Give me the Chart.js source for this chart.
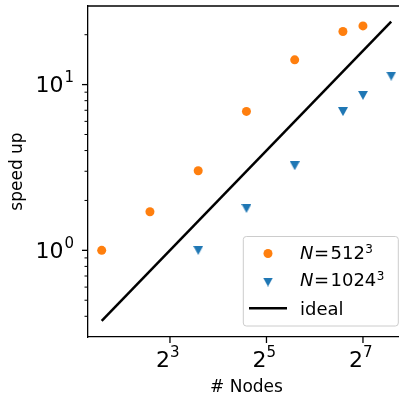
<!DOCTYPE html>
<html>
<head>
<meta charset="utf-8">
<script src="https://cdn.jsdelivr.net/npm/chart.js@4"></script>
<style>
  html, body { margin: 0; padding: 0; overflow: hidden; background: #fff; }
  #speedupChart { display: block; }
</style>
</head>
<body>
<canvas id="speedupChart" width="399" height="398"></canvas>
<script>
// Data

const nodes512 = [3, 6, 12, 24, 48, 96, 128];
const speedup512 = [1.0, 1.71, 3.02, 6.89, 14.1, 20.9, 22.6];

const nodes1024 = [12, 24, 48, 96, 128, 192];
const speedup1024 = [1.0, 1.79, 3.24, 6.87, 8.61, 11.25];

const idealNodes = [3, 192];
const idealSpeedup = [0.375, 24];

const seriesNames = ['N = 512³', 'N = 1024³', 'ideal'];

// Ticks
const xTicks = [8, 32, 128];
const xTickBase = '2';
const xTickExp = ['3', '5', '7'];
const yTicks = [1, 10];
const yTickBase = '10';
const yTickExp = ['0', '1'];
const yMinorTicks = [0.4, 0.5, 0.6, 0.7, 0.8, 0.9, 2, 3, 4, 5, 6, 7, 8, 9, 20];

const orange = '#ff7f0e';
const blue = '#1f77b4';
const FONT = '"DejaVu Sans"';

Chart.defaults.font.family = FONT;
Chart.defaults.color = '#000';

// down-pointing triangle marker, centred like matplotlib's 'v'
const triMarker = (() => {
    const c = document.createElement('canvas');
    c.width = 10; c.height = 9;
    const g = c.getContext('2d');
    g.fillStyle = blue;
    g.beginPath();
    g.moveTo(0, 0); g.lineTo(10, 0); g.lineTo(5, 9);
    g.closePath();
    g.fill();
    return c;
})();

const toPoints = (xs, ys) => xs.map((x, i) => ({ x: x, y: ys[i] }));

function drawPower(ctx, base, exp, x, baseline, align) {
    const size = 22, expSize = 15, raise = 10, gap = align === 'right' ? 1 : 0;
    ctx.font = size + 'px ' + FONT;
    const bw = ctx.measureText(base).width;
    ctx.font = expSize + 'px ' + FONT;
    const ew = ctx.measureText(exp).width;
    const x0 = align === 'right' ? x - bw - gap - ew : x - bw;
    ctx.textAlign = 'left';
    ctx.textBaseline = 'alphabetic';
    ctx.font = size + 'px ' + FONT;
    ctx.fillText(base, x0, baseline);
    ctx.font = expSize + 'px ' + FONT;
    ctx.fillText(exp, x0 + bw + gap, baseline - raise);
}

function line(ctx, x1, y1, x2, y2) {
    ctx.beginPath();
    ctx.moveTo(x1, y1);
    ctx.lineTo(x2, y2);
    ctx.stroke();
}

// top spine, tick marks, power-of labels and the x title
// (the axes box runs a few px past the right edge, so the title sits right of the visible centre)
const axisDecor = {
    id: 'axisDecor',
    afterDraw(chart) {
        const { ctx, chartArea: a, scales: { x, y } } = chart;
        ctx.save();
        ctx.strokeStyle = '#000';
        ctx.fillStyle = '#000';
        ctx.lineWidth = 1.3;
        line(ctx, a.left, a.top, a.right, a.top);

        xTicks.forEach((v, i) => {
            const px = x.getPixelForValue(v);
            line(ctx, px, a.bottom, px, a.bottom + 6);
            drawPower(ctx, xTickBase, xTickExp[i], px, 366.5, 'left');
        });

        yTicks.forEach((v, i) => {
            const py = y.getPixelForValue(v);
            line(ctx, a.left - 6, py, a.left, py);
            drawPower(ctx, yTickBase, yTickExp[i], 74, py + 7.8, 'right');
        });

        ctx.lineWidth = 1;
        yMinorTicks.forEach(v => {
            const py = y.getPixelForValue(v);
            line(ctx, a.left - 3.5, py, a.left, py);
        });

        ctx.font = '17px ' + FONT;
        ctx.textAlign = 'center';
        ctx.textBaseline = 'alphabetic';
        ctx.fillText('# Nodes', 246.5, 392);
        ctx.restore();
    }
};

// matplotlib style legend box
const supDigits = '⁰¹²³⁴⁵⁶⁷⁸⁹';
const mathLegend = {
    id: 'mathLegend',
    afterDraw(chart) {
        const ctx = chart.ctx;
        const bx = 243.3, by = 236.5, bw = 155, bh = 89.5, r = 3;
        ctx.save();
        ctx.beginPath();
        ctx.roundRect(bx, by, bw, bh, r);
        ctx.fillStyle = 'rgba(255,255,255,0.8)';
        ctx.fill();
        ctx.strokeStyle = '#cccccc';
        ctx.lineWidth = 1;
        ctx.stroke();

        const markerX = 268, textX = 300;
        const baselines = [258.5, 286, 315];
        const markerY = [253.5, 282, 308.3];

        chart.data.datasets.forEach((ds, i) => {
            const my = markerY[i];
            if (ds.showLine) {
                ctx.strokeStyle = ds.borderColor;
                ctx.lineWidth = ds.borderWidth;
                line(ctx, markerX - 19, my, markerX + 19, my);
            } else if (ds.pointStyle === 'circle') {
                ctx.fillStyle = ds.backgroundColor;
                ctx.beginPath();
                ctx.arc(markerX, my, ds.pointRadius, 0, Math.PI * 2);
                ctx.fill();
            } else {
                const im = ds.pointStyle;
                ctx.drawImage(im, markerX - im.width / 2, my - im.height / 2);
            }

            ctx.fillStyle = '#000';
            ctx.textAlign = 'left';
            ctx.textBaseline = 'alphabetic';
            const bl = baselines[i];
            const m = ds.label.match(/^N = (\d+)(.)$/);
            if (m) {
                ctx.font = 'italic 18px ' + FONT;
                ctx.fillText('N', textX, bl);
                ctx.font = '18px ' + FONT;
                ctx.fillText('=', textX + 14, bl);
                ctx.fillText(m[1], textX + 30.5, bl);
                const nw = ctx.measureText(m[1]).width;
                ctx.font = '12px ' + FONT;
                ctx.fillText(String(supDigits.indexOf(m[2])), textX + 30.5 + nw + 0.5, bl - 6);
            } else {
                ctx.font = '18px ' + FONT;
                ctx.fillText(ds.label, textX, bl);
            }
        });
        ctx.restore();
    }
};

const speedupChart = new Chart(document.getElementById('speedupChart'), {
    type: 'scatter',
    data: {
        datasets: [
            {
                label: seriesNames[0],
                data: toPoints(nodes512, speedup512),
                pointStyle: 'circle',
                pointRadius: 4.5,
                borderWidth: 0,
                backgroundColor: orange,
            },
            {
                label: seriesNames[1],
                data: toPoints(nodes1024, speedup1024),
                pointStyle: triMarker,
                pointRadius: 5,
                borderWidth: 0,
                backgroundColor: blue,
            },
            {
                label: seriesNames[2],
                data: toPoints(idealNodes, idealSpeedup),
                showLine: true,
                borderColor: '#000',
                borderWidth: 2.5,
                pointRadius: 0,
                tension: 0,
            },
        ]
    },

    options: {
      responsive: false,
      animation: false,
      layout: { autoPadding: false, padding: { top: 6, right: 0, bottom: 0, left: 0 } },
      plugins: {
        legend: { display: false },
        tooltip: { enabled: false },
      },
      scales: {
        x: {
          type: 'logarithmic',
          min: 2.464,
          max: 214.8,
          grid: { display: false },
          border: { display: true, color: '#000', width: 1.3 },
          ticks: { display: false },
          afterFit: s => { s.height = 61; },
        },
        y: {
          type: 'logarithmic',
          min: 0.3078,
          max: 29.8,
          grid: { display: false },
          border: { display: true, color: '#000', width: 1.3 },
          ticks: { display: false },
          title: {
            display: true,
            text: 'speed up',
            font: { size: 17 },
            padding: { top: 7.3, bottom: 0 },
          },
          afterFit: s => { s.width = 88; },
        }
      }
    },
    plugins: [axisDecor, mathLegend]
});
</script>
</body>
</html>
